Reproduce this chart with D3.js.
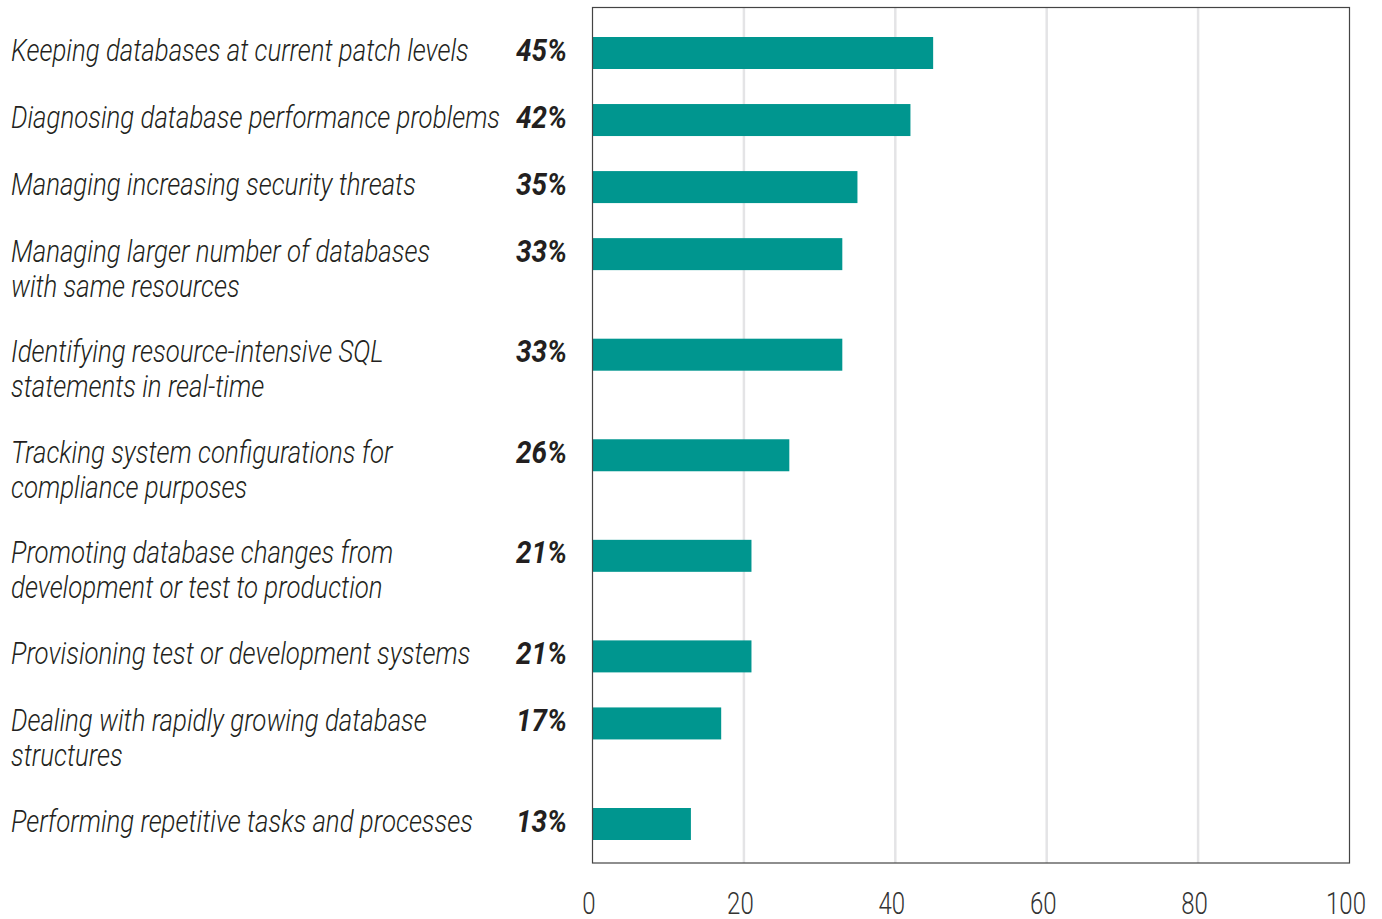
<!DOCTYPE html>
<html>
<head>
<meta charset="utf-8">
<script src="https://cdn.jsdelivr.net/npm/d3@7"></script>
<style>
  html, body { margin: 0; padding: 0; background: #ffffff; }
  svg { display: block; }
  .cat { font-family: Roboto, "Liberation Sans", sans-serif; font-style: italic; font-weight: 300; font-size: 31px; fill: #231f20; }
  .pct { font-family: Roboto, "Liberation Sans", sans-serif; font-style: italic; font-weight: 700; font-size: 31px; fill: #231f20; }
  .axlbl { font-family: Roboto, "Liberation Sans", sans-serif; font-weight: 300; font-size: 31px; fill: #333333; }
</style>
</head>
<body>
<svg id="chart" width="1382" height="919"></svg>
<script>
// Survey responses: share of respondents naming each task
const categories = [
  ["Keeping databases at current patch levels"],
  ["Diagnosing database performance problems"],
  ["Managing increasing security threats"],
  ["Managing larger number of databases", "with same resources"],
  ["Identifying resource-intensive SQL", "statements in real-time"],
  ["Tracking system configurations for", "compliance purposes"],
  ["Promoting database changes from", "development or test to production"],
  ["Provisioning test or development systems"],
  ["Dealing with rapidly growing database", "structures"],
  ["Performing repetitive tasks and processes"]
];
const values = [45, 42, 35, 33, 33, 26, 21, 21, 17, 13];
const xTicks = [0, 20, 40, 60, 80, 100];

const svg = d3.select("#chart");
const plot = { left: 592.5, right: 1349.5, top: 7.5, bottom: 863 };

const x = d3.scaleLinear().domain([0, 100]).range([plot.left, plot.right]);

// Rows with a wrapped label take more vertical room: 2 units per one-line row, 3 per two-line row
const rowUnits = categories.map(c => c.length === 1 ? 2 : 3);
const rowStart = [];
rowUnits.reduce((acc, u, i) => { rowStart[i] = acc; return acc + u; }, 0);
const y = d3.scaleLinear().domain([0, 23]).range([37, 808]);
const barH = 32;

// Condensed look: squeeze a text class horizontally so a sample string hits a given width
function squeeze(cls, sample, width) {
  const t = svg.append("text").attr("class", cls).text(sample);
  const w = t.node().getComputedTextLength();
  t.remove();
  return width / w;
}
const catScale = squeeze("cat", categories[0][0], 458);
const pctScale = squeeze("pct", "45%", 51);
const tickScale = squeeze("axlbl", "100", 40);

// Gridlines
svg.append("g").selectAll("line")
  .data(xTicks.filter(t => t > 0 && t < 100))
  .join("line")
  .attr("x1", d => x(d)).attr("x2", d => x(d))
  .attr("y1", plot.top).attr("y2", plot.bottom)
  .attr("stroke", "#e4e4e6").attr("stroke-width", 2.5);

// Bars
svg.append("g").selectAll("rect")
  .data(values)
  .join("rect")
  .attr("x", x(0))
  .attr("y", (d, i) => y(rowStart[i]))
  .attr("width", d => x(d) - x(0))
  .attr("height", barH)
  .attr("fill", "#00968f");

// Plot frame
svg.append("rect")
  .attr("x", plot.left).attr("y", plot.top)
  .attr("width", plot.right - plot.left).attr("height", plot.bottom - plot.top)
  .attr("fill", "none").attr("stroke", "#444444").attr("stroke-width", 1.2);

// Category labels
const catG = svg.append("g");
categories.forEach((lines, i) => {
  const t = catG.append("text").attr("class", "cat")
    .attr("transform", `translate(11,${y(rowStart[i]) + 23.5}) scale(${catScale},1)`);
  lines.forEach((ln, j) => {
    t.append("tspan").attr("x", 0).attr("dy", j === 0 ? 0 : 35).text(ln);
  });
});

// Value labels
svg.append("g").selectAll("text")
  .data(values)
  .join("text")
  .attr("class", "pct")
  .attr("text-anchor", "end")
  .attr("transform", (d, i) => `translate(567,${y(rowStart[i]) + 23.5}) scale(${pctScale},1)`)
  .text(d => d + "%");

// X axis tick labels
const axis = d3.axisBottom(x).tickValues(xTicks).tickSize(0).tickPadding(0).tickFormat(d3.format("d"));
const ax = svg.append("g").attr("transform", `translate(-4,${plot.bottom})`).call(axis)
  .attr("font-family", null).attr("font-size", null);
ax.select(".domain").remove();
ax.selectAll(".tick text")
  .attr("class", "axlbl")
  .attr("fill", null)
  .attr("dy", null).attr("y", 0)
  .attr("transform", `translate(0,51) scale(${tickScale},1)`);
</script>
</body>
</html>
